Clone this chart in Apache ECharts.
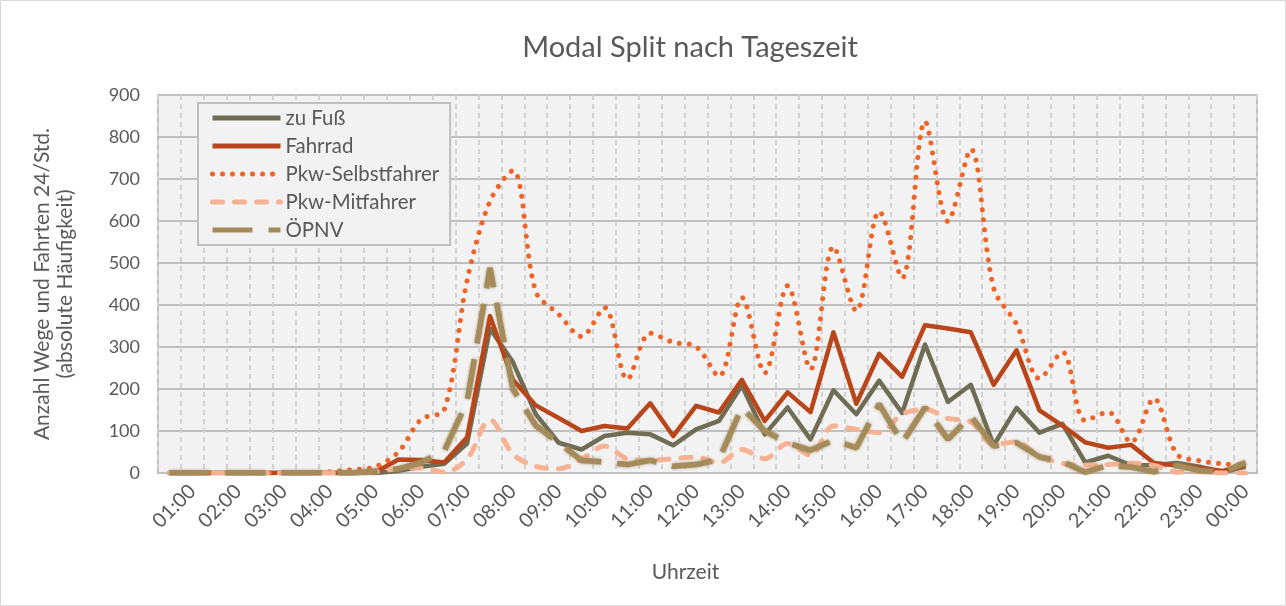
<!DOCTYPE html>
<html><head><meta charset="utf-8">
<script src="https://cdn.jsdelivr.net/npm/echarts@6/dist/echarts.min.js"></script>
<style>html,body{margin:0;padding:0;background:#fff}#c{width:1286px;height:606px}</style>
</head><body><div id="c"></div>
<script>
const times = ["00:30","01:00","01:30","02:00","02:30","03:00","03:30","04:00","04:30","05:00","05:30","06:00","06:30","07:00","07:30","08:00","08:30","09:00","09:30","10:00","10:30","11:00","11:30","12:00","12:30","13:00","13:30","14:00","14:30","15:00","15:30","16:00","16:30","17:00","17:30","18:00","18:30","19:00","19:30","20:00","20:30","21:00","21:30","22:00","22:30","23:00","23:30","00:00"];
const zuFuss = [0,0,0,0,0,0,0,0,0,0, 5,15,22,70,344,264,140,72,56,88, 96,92,66,104,124,208,92,156,80,197, 140,220,143,306,169,210,66,155,96,117, 25,41,18,19,24,15,2,15];
const fahrrad = [0,0,0,0,0,0,0,0,0,2, 32,31,25,85,374,222,161,131,100,112, 106,166,88,160,144,222,124,192,145,335, 165,284,229,352,344,335,210,292,149,113, 73,60,67,24,18,12,5,19];
const selbstfahrer = [0,0,0,0,0,0,0,3,8,15, 50,128,150,458,647,720,432,378,325,394, 223,333,311,301,230,418,238,446,247,539, 386,623,464,837,599,771,440,354,225,288, 125,145,73,177,45,29,22,19];
const mitfahrer = [0,0,0,0,0,0,0,0,0,3, 10,12,2,33,127,45,16,10,33,64, 34,30,34,38,24,56,34,70,42,112, 104,96,140,152,130,122,68,74,40,23, 19,20,23,18,2,4,0,0];
const oepnv = [0,0,0,0,0,0,0,0,0,5, 10,25,52,170,488,200,113,72,30,26, 20,30,16,20,32,156,100,72,54,78, 60,164,72,156,80,136,64,72,38,27, 2,18,14,3,18,6,2,25];
const yTicks = [0,100,200,300,400,500,600,700,800,900];

const FONT = 'Lato';
const TXT = '#595959';
const chart = echarts.init(document.getElementById('c'), null, {renderer:'canvas'});
chart.setOption({
  animation: false,
  backgroundColor: '#ffffff',
  textStyle: {fontFamily: FONT, color: TXT},
  graphic: [{type:'rect', shape:{x:0.5,y:0.5,width:1285,height:605}, style:{fill:'none', stroke:'#d9d9d9', lineWidth:1}, silent:true, z:-10}],
  title: {text:'Modal Split nach Tageszeit', left:685, top:28, textAlign:'center',
    textStyle:{fontFamily:FONT, fontSize:29, fontWeight:'normal', color:TXT}},
  legend: {
    orient:'vertical', left:198, top:103,
    itemWidth:68, itemHeight:20, itemGap:8,
    padding:[5,11,5,12],
    backgroundColor:'#f2f2f2', borderColor:'#bfbfbf', borderWidth:2,
    itemStyle:{color:'rgba(0,0,0,0)', borderColor:'rgba(0,0,0,0)', borderWidth:0},
    lineStyle:{width:5},
    textStyle:{fontFamily:FONT, fontSize:20.4, color:TXT},
    data:['zu Fuß','Fahrrad','Pkw-Selbstfahrer','Pkw-Mitfahrer','ÖPNV']
  },
  grid: {left:158, right:29, top:95, bottom:133, show:true, backgroundColor:'#f2f2f2', borderColor:'#bfbfbf', borderWidth:2},
  xAxis: {
    type:'category', data:times, boundaryGap:true,
    name:'Uhrzeit', nameLocation:'middle', nameGap:89,
    nameTextStyle:{fontFamily:FONT, fontSize:21, color:TXT, padding:[0,44,0,0]},
    axisLine:{show:true, lineStyle:{color:'#bfbfbf', width:2}},
    axisTick:{show:false},
    axisLabel:{interval:function(i){return i % 2 === 1;}, rotate:45, margin:15, fontFamily:FONT, fontSize:20, color:TXT},
    splitLine:{show:true, interval:0, lineStyle:{color:'#d2d2d2', width:2, type:[5,4]}}
  },
  yAxis: {
    type:'value', min:yTicks[0], max:yTicks[yTicks.length-1], interval:100,
    name:'Anzahl Wege und Fahrten 24/Std.\n(absolute Häufigkeit)',
    nameLocation:'middle', nameGap:81, nameRotate:90,
    nameTextStyle:{fontFamily:FONT, fontSize:21, color:TXT, lineHeight:23, align:'center'},
    axisLine:{show:false}, axisTick:{show:false},
    axisLabel:{margin:18, fontFamily:FONT, fontSize:18, color:TXT},
    splitLine:{show:true, lineStyle:{color:'#bfbfbf', width:2}}
  },
  series: [
    {name:'zu Fuß', type:'line', data:zuFuss, symbol:'none', color:'#6f6e55',
      lineStyle:{color:'#6f6e55', width:4.5, join:'round'}},
    {name:'Fahrrad', type:'line', data:fahrrad, symbol:'none', color:'#b8461a',
      lineStyle:{color:'#b8461a', width:4.5, join:'round'}},
    {name:'Pkw-Selbstfahrer', type:'line', data:selbstfahrer, symbol:'none', smooth:0.33, color:'#ef6426',
      lineStyle:{color:'#ef6426', width:5, type:[0.01,10], cap:'round'}},
    {name:'Pkw-Mitfahrer', type:'line', data:mitfahrer, symbol:'none', smooth:0.33, color:'#f6b292',
      lineStyle:{color:'#f6b292', width:5, type:[10,12], cap:'round'}},
    {name:'ÖPNV', type:'line', data:oepnv, symbol:'none', color:'#a68b5a',
      lineStyle:{color:'#a68b5a', width:5.5, type:[40,16], shadowBlur:3, shadowColor:'rgba(150,125,80,0.8)'}}
  ]
});
</script></body></html>
